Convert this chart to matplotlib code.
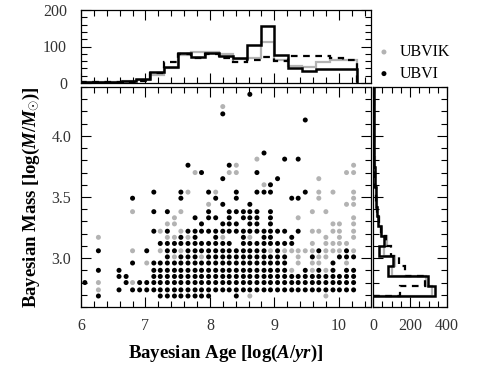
import numpy as np
import matplotlib
matplotlib.use('Agg')
import matplotlib.pyplot as plt
from matplotlib.ticker import MultipleLocator

# -----------------------------------------------------------------------------
# Data
# -----------------------------------------------------------------------------

# grid of ages / masses on which the Bayesian estimates fall
ages = [6.06, 6.16, 6.27, 6.38, 6.48, 6.59, 6.70, 6.80, 6.91, 7.02,
        7.13, 7.23, 7.34, 7.45, 7.55, 7.66, 7.77, 7.87, 7.98, 8.09,
        8.20, 8.30, 8.41, 8.52, 8.62, 8.73, 8.84, 8.94, 9.05, 9.16,
        9.27, 9.37, 9.48, 9.59, 9.69, 9.80, 9.91, 10.01, 10.12, 10.23]

masses = [2.69, 2.74, 2.80, 2.85, 2.90, 2.96, 3.01, 3.06, 3.12, 3.17,
          3.22, 3.28, 3.33, 3.38, 3.44, 3.49, 3.54, 3.60, 3.65, 3.70,
          3.76, 3.81, 3.86, 3.92, 3.97, 4.02, 4.08, 4.13, 4.18, 4.24,
          4.29, 4.34]

# occupied cells, one string per mass row (bottom up), one char per age column
# k = UBVI (black), g = UBVIK (grey), . = empty
cells = [
    "..k........kkkkkkkk...k.g..........g....",
    "..g..k.kkkkkkkkkkkkkkkkkkkkkkkkkkkkkkkkk",
    "k.g...kgkkkkkkkkkkkkkkkkkkkkkkkkkkkkkkkk",
    ".....kk...kkkkkkkkkkkkkkkkkkkkkkkkkkkkkk",
    "..k..k....kkkkkkkkkkkkkkkkkkkkg.kgkgk.kk",
    ".......k.gkkkkkkkkkkkkkkkkkkkk.g.gg.k.g.",
    "............kgkkkgkkkkkkkkkkkk.g.kgg.kkk",
    "..k....g.k.gkkgkkkkkkkkkkkkgkgggggkgggkg",
    "...........kkkkkkkkkkk.kkkkkkkk..g.gggg.",
    "..g.........ggkgk..kg..kg.kk..k....g.g.g",
    "..........kgk.gkkkkkkkkkkkkkkk.k.gg.gg.g",
    "............gg...k..kkk.kk.k........gg.g",
    ".............g..k.kk.k.kkk.k...g.......g",
    ".......g..k.k.g...k..kkkkk.k.....g.g....",
    "..................g.k...k.............gg",
    ".......k......k....k..k.......kk..g....g",
    "..........k...kg..kg..k..kkk....k.g.g..g",
    "..........................gk............",
    "....................k.......k.....g.....",
    "................gk...gg..k............gg",
    "...............k.....kg................g",
    ".........................g...k.k........",
    "..........................k.............",
    "........................................",
    "........................................",
    "........................................",
    "........................................",
    "................................k.......",
    "....................k...................",
    "....................g...................",
    "........................................",
    "........................k...............",
]

# age histogram (top panel)
age_edges = [6.0, 6.214, 6.429, 6.643, 6.857, 7.071, 7.286, 7.5, 7.714, 7.929,
             8.143, 8.357, 8.571, 8.786, 9.0, 9.214, 9.429, 9.643, 9.857,
             10.071, 10.286]
age_ubvi = [4, 4, 4, 5, 12, 30, 45, 82, 70, 83, 74, 68, 103, 156, 77, 41, 32, 37, 37, 37]
age_ubvik = [4, 4, 4, 5, 7, 21, 40, 77, 85, 86, 79, 65, 68, 112, 63, 46, 44, 58, 62, 62]
age_dash = [3, 3, 3, 4, 6, 28, 57, 80, 69, 80, 69, 57, 63, 71, 59, 73, 73, 73, 69, 64]

# mass histogram (right panel)
mass_edges = [2.69, 2.771, 2.853, 2.934, 3.015, 3.097, 3.178, 3.259, 3.341,
              3.422, 3.503, 3.584, 3.666, 3.747, 3.828, 3.91, 3.991, 4.072,
              4.153, 4.235, 4.316, 4.397]
mass_ubvi = [335, 299, 83, 110, 34, 59, 41, 29, 22, 18, 15, 12, 10, 8, 7, 6, 5, 5, 4, 3, 3]
mass_ubvik = [320, 288, 100, 120, 60, 78, 45, 32, 24, 19, 16, 13, 11, 9, 8, 7, 6, 5, 5, 4, 3]
mass_dash = [146, 281, 173, 140, 95, 70, 45, 30, 22, 18, 14, 11, 9, 8, 7, 6, 5, 5, 4, 3, 3]

# -----------------------------------------------------------------------------

plt.rcParams['font.family'] = ['Liberation Serif', 'DejaVu Serif']
plt.rcParams['mathtext.fontset'] = 'custom'
plt.rcParams['mathtext.rm'] = 'Liberation Serif:bold'
plt.rcParams['mathtext.it'] = 'Liberation Serif:italic:bold'
plt.rcParams['mathtext.bf'] = 'Liberation Serif:bold'

grey = '#b3b3b3'

# unpack the cell map
bx, by, gx, gy = [], [], [], []
for j, row in enumerate(cells):
    for k, c in enumerate(row):
        if c == 'k':
            bx.append(ages[k]); by.append(masses[j])
        elif c == 'g':
            gx.append(ages[k]); gy.append(masses[j])

W, H = 480., 368.
fig = plt.figure(figsize=(4.8, 3.68), dpi=100)
ax = fig.add_axes([81/W, 61/H, 290/W, 220/H])
ax_top = fig.add_axes([81/W, (H-83)/H, 290/W, 73/H])
ax_r = fig.add_axes([373/W, 61/H, 74/W, 220/H])

sg = ax.scatter(gx, gy, s=13, c=grey, edgecolors='none', label='UBVIK')
sb = ax.scatter(bx, by, s=13, c='black', edgecolors='none', label='UBVI')

ax.set_xlim(6, 10.5)
ax.set_ylim(2.6, 4.4)
ax.xaxis.set_major_locator(MultipleLocator(1))
ax.xaxis.set_minor_locator(MultipleLocator(0.2))
ax.yaxis.set_major_locator(MultipleLocator(0.5))
ax.yaxis.set_minor_locator(MultipleLocator(0.1))
ax.set_xlabel(r'Bayesian Age [log($A/yr$)]', fontsize=13.5, fontweight='bold', labelpad=6)
ax.set_ylabel(r'Bayesian Mass [log($M/M_{\odot}$)]', fontsize=13.5, fontweight='bold', labelpad=7)

# top: age histograms
ax_top.stairs(age_ubvik, age_edges, color=grey, lw=1.6)
ax_top.stairs(age_ubvi, age_edges, color='black', lw=1.8)
ax_top.stairs(age_dash, age_edges, color='black', lw=1.6, linestyle=(0, (3, 2.5)))
ax_top.set_xlim(6, 10.5)
ax_top.set_ylim(0, 200)
ax_top.xaxis.set_major_locator(MultipleLocator(1))
ax_top.xaxis.set_minor_locator(MultipleLocator(0.2))
ax_top.yaxis.set_major_locator(MultipleLocator(100))
ax_top.yaxis.set_minor_locator(MultipleLocator(20))
ax_top.tick_params(labelbottom=False)

# right: mass histograms
ax_r.stairs(mass_ubvik, mass_edges, orientation='horizontal', color=grey, lw=1.6)
ax_r.stairs(mass_ubvi, mass_edges, orientation='horizontal', color='black', lw=1.8)
ax_r.stairs(mass_dash, mass_edges, orientation='horizontal', color='black', lw=1.6,
            linestyle=(0, (3, 2.5)))
ax_r.set_xlim(0, 400)
ax_r.set_ylim(2.6, 4.4)
ax_r.xaxis.set_major_locator(MultipleLocator(200))
ax_r.xaxis.set_minor_locator(MultipleLocator(50))
ax_r.yaxis.set_major_locator(MultipleLocator(0.5))
ax_r.yaxis.set_minor_locator(MultipleLocator(0.1))
ax_r.tick_params(labelleft=False)

for a in (ax, ax_top, ax_r):
    a.tick_params(which='both', direction='in', top=True, right=True, labelsize=11.5,
                  labelcolor='#333333')
    a.tick_params(which='major', length=7, width=0.8)
    a.tick_params(which='minor', length=4, width=0.8)
    a.tick_params(axis='x', pad=8)
    a.tick_params(axis='y', pad=7)
    for s in a.spines.values():
        s.set_linewidth(0.9)
ax_top.tick_params(axis='y', pad=10)

fig.legend(handles=[sg, sb], labels=['UBVIK', 'UBVI'], loc='center left',
           bbox_to_anchor=(360/W, 1-63/H), frameon=False, fontsize=11.5,
           handletextpad=0.4, labelspacing=0.35, handlelength=1.2)

fig.savefig('out.png', dpi=100)
